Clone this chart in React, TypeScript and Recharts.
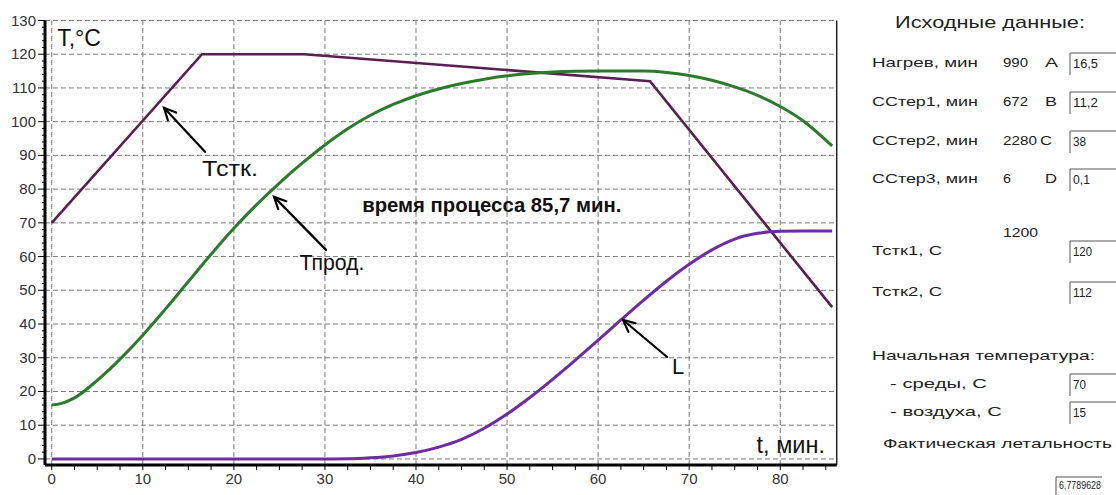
import React from 'react';
import { LineChart, Line, XAxis, YAxis, ReferenceLine, ReferenceDot } from 'recharts';

// ---- data ----
const tstkTime = [0, 16.5, 27.7, 65.7, 85.7];
const tstkValues = [70, 120, 120, 112, 45];

const curveTime = [0, 1, 2.5, 5, 7.5, 10, 12.5, 15, 17.5, 20, 22.5, 25, 27.5, 30, 32.5, 35, 37.5, 40, 42.5, 45, 47.5, 50, 52.5, 55, 57.5, 60, 62.5, 65, 67.5, 70, 72.5, 75, 77.5, 80, 82.5, 85.7];
const tprodValues = [16, 16.4, 18.1, 23.3, 29.6, 36.7, 44.5, 52.6, 60.7, 68.4, 75.4, 81.8, 87.7, 93.1, 97.9, 101.9, 105.1, 107.7, 109.7, 111.3, 112.6, 113.6, 114.3, 114.75, 114.95, 115, 115, 115, 114.6, 113.7, 112.3, 110.3, 107.8, 104.5, 100.3, 92.8];
const lValues = [0, 0, 0, 0, 0, 0, 0, 0, 0, 0, 0, 0, 0, 0, 0.05, 0.35, 0.9, 1.9, 3.5, 5.8, 9.1, 13.3, 18.2, 23.6, 29.3, 35.2, 41.2, 47.1, 52.7, 57.7, 62.0, 65.2, 66.9, 67.5, 67.6, 67.6];

const xDomain = [-0.74, 86.2];
const yDomain = [-1.8, 130];
const xTicks = Array.from({ length: 35 }, (_, i) => i * 2.5);
const xMajor = [0, 10, 20, 30, 40, 50, 60, 70, 80];
const yTicks = Array.from({ length: 66 }, (_, i) => i * 2);
const yMajor = [0, 10, 20, 30, 40, 50, 60, 70, 80, 90, 100, 110, 120, 130];

const tstkData = tstkTime.map((t, i) => ({ t, v: tstkValues[i] }));
const tprodData = curveTime.map((t, i) => ({ t, v: tprodValues[i] }));
const lData = curveTime.map((t, i) => ({ t, v: lValues[i] }));

// annotations (data coordinates)
const annotations = [
  { text: 'Тстк.', t: 16.5, v: 84.0, size: 22, weight: 'normal', len: 56 },
  { text: 'Тпрод.', t: 27.2, v: 56.0, size: 22, weight: 'normal', len: 65 },
  { text: 'L', t: 68.1, v: 25.2, size: 22, weight: 'normal', len: 0 },
  { text: 'время процесса 85,7 мин.', t: 34.1, v: 73.2, size: 20.3, weight: 'bold', len: 0 },
  { text: 'T,°C', t: 0.6, v: 122.5, size: 23, weight: 'normal', len: 0 },
  { text: 't, мин.', t: 77.4, v: 1.9, size: 23.5, weight: 'normal', len: 0 },
];
const arrows = [
  { t: 12.33, v: 104.1, dx: 41, dy: 44 },
  { t: 24.41, v: 77.7, dx: 52, dy: 53 },
  { t: 62.74, v: 41.2, dx: 44, dy: 37 },
];

// side panel
const panelTexts = [
  { text: 'Исходные данные:', x: 895, y: 28, w: 190, s: 17 },
  { text: 'Нагрев, мин', x: 872, y: 67, w: 106, s: 13.5 },
  { text: '990', x: 1003, y: 67, w: 25, s: 13.5 },
  { text: 'А', x: 1045, y: 67, w: 13, s: 13.5 },
  { text: 'ССтер1, мин', x: 872, y: 106, w: 106, s: 13.5 },
  { text: '672', x: 1003, y: 106, w: 25, s: 13.5 },
  { text: 'В', x: 1045, y: 106, w: 12, s: 13.5 },
  { text: 'ССтер2, мин', x: 872, y: 145, w: 106, s: 13.5 },
  { text: '2280', x: 1003, y: 145, w: 34, s: 13.5 },
  { text: 'С', x: 1040, y: 145, w: 12, s: 13.5 },
  { text: 'ССтер3, мин', x: 872, y: 183, w: 106, s: 13.5 },
  { text: '6', x: 1003, y: 183, w: 8, s: 13.5 },
  { text: 'D', x: 1045, y: 183, w: 12, s: 13.5 },
  { text: '1200', x: 1003, y: 237, w: 35, s: 13.5 },
  { text: 'Тстк1, С', x: 872, y: 255, w: 70, s: 13.5 },
  { text: 'Тстк2, С', x: 872, y: 296, w: 70, s: 13.5 },
  { text: 'Начальная температура:', x: 872, y: 360, w: 223, s: 13.5 },
  { text: '- среды, С', x: 890, y: 388, w: 97, s: 13.5 },
  { text: '- воздуха, С', x: 890, y: 416, w: 112, s: 13.5 },
  { text: 'Фактическая летальность', x: 883, y: 448, w: 229, s: 13.5 },
];
const panelBoxes = [
  { text: '16,5', x: 1070, y: 53, w: 46, tw: 25, ty: 15 },
  { text: '11,2', x: 1070, y: 92, w: 46, tw: 25, ty: 15 },
  { text: '38', x: 1070, y: 131, w: 46, tw: 13, ty: 15 },
  { text: '0,1', x: 1070, y: 169, w: 46, tw: 17, ty: 15 },
  { text: '120', x: 1070, y: 241, w: 46, tw: 19, ty: 15 },
  { text: '112', x: 1070, y: 282, w: 46, tw: 19, ty: 15 },
  { text: '70', x: 1070, y: 374, w: 46, tw: 13, ty: 15 },
  { text: '15', x: 1070, y: 402, w: 46, tw: 13, ty: 15 },
  { text: '6,7789628', x: 1056, y: 477, w: 46, tw: 42, ty: 12 },
];

const FONT = '"Liberation Sans", Arial, sans-serif';

const YTick = (props: any) => {
  const { x, y, payload } = props;
  const v = payload.value;
  const major = v % 10 === 0;
  const ax = x + 9;
  return (
    <g>
      <line x1={ax - (major ? 7 : 3)} x2={ax} y1={y} y2={y} stroke="#000" strokeWidth={1} />
      {major && (
        <text x={x} y={y} dy={5} textAnchor="end" fontSize={15} fill="#333" fontFamily={FONT}>
          {v}
        </text>
      )}
    </g>
  );
};

const XTick = (props: any) => {
  const { x, y, payload } = props;
  const v = payload.value;
  if (v % 10 !== 0) return <g />;
  return (
    <text x={x} y={y} dy={11} textAnchor="middle" fontSize={15} fill="#333" fontFamily={FONT}>
      {v}
    </text>
  );
};

const makeArrow = (dx: number, dy: number) => (props: any) => {
  const { cx, cy } = props;
  const len = Math.hypot(dx, dy);
  const ux = dx / len;
  const uy = dy / len;
  const h = 13;
  const a = Math.PI / 7;
  const rot = (ang: number) => [ux * Math.cos(ang) - uy * Math.sin(ang), ux * Math.sin(ang) + uy * Math.cos(ang)];
  const [ax, ay] = rot(a);
  const [bx, by] = rot(-a);
  return (
    <g stroke="#000" strokeWidth={2.2} fill="none" strokeLinecap="round" strokeLinejoin="miter">
      <line x1={cx} y1={cy} x2={cx + dx} y2={cy + dy} />
      <polyline points={`${cx + ax * h},${cy + ay * h} ${cx},${cy} ${cx + bx * h},${cy + by * h}`} />
    </g>
  );
};

const makeText = (a: any) => (props: any) => (
  <text
    x={props.cx}
    y={props.cy}
    fontSize={a.size}
    fontWeight={a.weight}
    fill="#111"
    fontFamily={FONT}
    {...(a.len ? { textLength: a.len, lengthAdjust: 'spacingAndGlyphs' } : {})}
  >
    {a.text}
  </text>
);

export default function App() {
  return (
    <div style={{ position: 'absolute', left: 0, top: 0, width: 1116, height: 495, background: '#fff' }}>
      <LineChart width={1116} height={495} margin={{ top: 20.5, right: 279.3, bottom: 0, left: 0 }}>
        <XAxis
          dataKey="t"
          type="number"
          domain={xDomain}
          ticks={xTicks}
          interval={0}
          height={30}
          tickSize={5}
          tickMargin={3}
          axisLine={{ stroke: '#000', strokeWidth: 3 }}
          tickLine={{ stroke: '#000' }}
          tick={<XTick />}
          allowDataOverflow
        />
        <YAxis
          type="number"
          domain={yDomain}
          ticks={yTicks}
          interval={0}
          width={45}
          tickSize={7}
          tickMargin={2}
          axisLine={{ stroke: '#000', strokeWidth: 3 }}
          tickLine={false}
          tick={<YTick />}
          allowDataOverflow
        />
        {xMajor.map((v) => (
          <ReferenceLine key={'gx' + v} x={v} stroke="#7a7a7a" strokeDasharray="5 3" />
        ))}
        {yMajor.map((v) => (
          <ReferenceLine key={'gy' + v} y={v} stroke="#7a7a7a" strokeDasharray="5 3" />
        ))}
        <ReferenceLine x={xDomain[1]} stroke="#222" strokeWidth={1.5} />
        <Line data={tstkData} dataKey="v" type="linear" stroke="#5a1f52" strokeWidth={2.6} dot={false} isAnimationActive={false} />
        <Line data={tprodData} dataKey="v" type="monotone" stroke="#2c7a2c" strokeWidth={3} dot={false} isAnimationActive={false} />
        <Line data={lData} dataKey="v" type="monotone" stroke="#6e2ca0" strokeWidth={3} dot={false} isAnimationActive={false} />
        {arrows.map((a, i) => (
          <ReferenceDot key={'ar' + i} x={a.t} y={a.v} r={1} shape={makeArrow(a.dx, a.dy)} />
        ))}
        {annotations.map((a, i) => (
          <ReferenceDot key={'an' + i} x={a.t} y={a.v} r={1} shape={makeText(a)} />
        ))}
      </LineChart>
      <svg width={1116} height={495} style={{ position: 'absolute', left: 0, top: 0, pointerEvents: 'none' }}>
        {panelTexts.map((p, i) => (
          <text key={'pt' + i} x={p.x} y={p.y} fontSize={p.s} fill="#222" fontFamily={FONT} textLength={p.w} lengthAdjust="spacingAndGlyphs">
            {p.text}
          </text>
        ))}
        {panelBoxes.map((b, i) => (
          <g key={'pb' + i}>
            <polyline points={`${b.x},${b.y + 22} ${b.x},${b.y} ${b.x + b.w},${b.y}`} fill="none" stroke="#555" strokeWidth={1} />
            <text x={b.x + 3} y={b.y + b.ty} fontSize={b.ty === 12 ? 11 : 12.5} fill="#222" fontFamily={FONT} textLength={b.tw} lengthAdjust="spacingAndGlyphs">
              {b.text}
            </text>
          </g>
        ))}
      </svg>
    </div>
  );
}
